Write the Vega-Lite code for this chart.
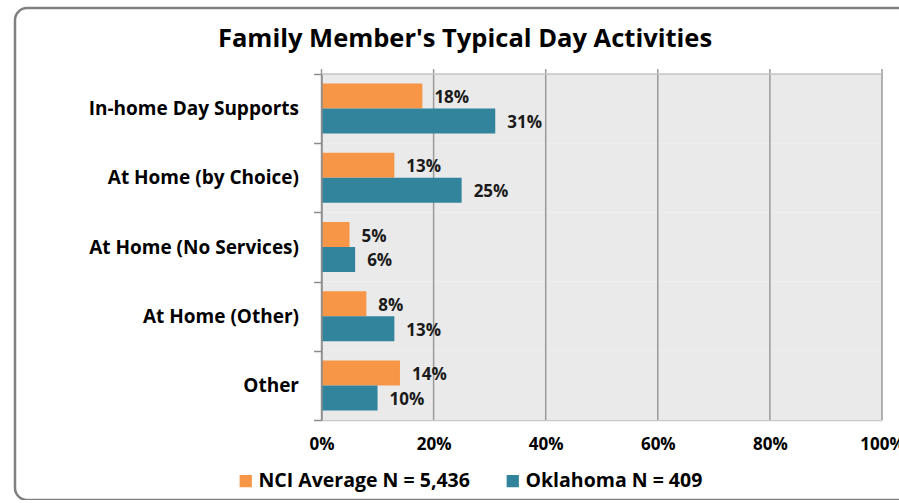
{
  "$schema": "https://vega.github.io/schema/vega-lite/v6.json",
  "width": 900,
  "height": 492,
  "autosize": {"type": "none"},
  "padding": {"left": 15, "top": 8, "right": 0, "bottom": 0},
  "background": "white",
  "title": {
    "text": "Family Member's Typical Day Activities",
    "anchor": "middle",
    "frame": "group",
    "orient": "top",
    "offset": -39,
    "dy": 34,
    "baseline": "alphabetic",
    "font": "Open Sans",
    "fontSize": 25.5,
    "fontWeight": "bold",
    "color": "#000000"
  },
  "datasets": {
    "bars": [
      {"category": "In-home Day Supports", "series": "NCI Average N = 5,436", "value": 18},
      {"category": "In-home Day Supports", "series": "Oklahoma N = 409", "value": 31},
      {"category": "At Home (by Choice)", "series": "NCI Average N = 5,436", "value": 13},
      {"category": "At Home (by Choice)", "series": "Oklahoma N = 409", "value": 25},
      {"category": "At Home (No Services)", "series": "NCI Average N = 5,436", "value": 5},
      {"category": "At Home (No Services)", "series": "Oklahoma N = 409", "value": 6},
      {"category": "At Home (Other)", "series": "NCI Average N = 5,436", "value": 8},
      {"category": "At Home (Other)", "series": "Oklahoma N = 409", "value": 13},
      {"category": "Other", "series": "NCI Average N = 5,436", "value": 14},
      {"category": "Other", "series": "Oklahoma N = 409", "value": 10}
    ],
    "grid": [{"v": 0}, {"v": 20}, {"v": 40}, {"v": 60}, {"v": 80}, {"v": 100}],
    "frameEdge": [{"edge": "top", "from": 0, "to": 100}]
  },
  "resolve": {"scale": {"y": "independent"}, "axis": {"y": "independent"}},
  "layer": [
    {
      "data": {"name": "bars"},
      "transform": [{"filter": {"field": "series", "equal": "NCI Average N = 5,436"}}],
      "mark": {"type": "rect", "fill": "#eaeaea"},
      "encoding": {
        "y": {
          "field": "category", "type": "nominal",
          "sort": ["In-home Day Supports", "At Home (by Choice)", "At Home (No Services)", "At Home (Other)", "Other"],
          "scale": {"range": [66, 412], "paddingInner": 0, "paddingOuter": 0},
          "axis": null
        },
        "x": {"datum": 0, "type": "quantitative", "title": null, "scale": {"domain": [0, 100], "range": [306.5, 867], "nice": false}},
        "x2": {"datum": 100}
      }
    },
    {
      "data": {"name": "grid"},
      "mark": {"type": "rule", "color": "#9a9a9a", "strokeWidth": 1.5},
      "encoding": {
        "x": {"field": "v", "type": "quantitative", "title": null},
        "y": {"datum": 0, "type": "quantitative", "scale": {"domain": [0, 1], "range": [412, 61]}, "axis": null},
        "y2": {"datum": 1}
      }
    },
    {
      "data": {"name": "frameEdge"},
      "mark": {"type": "rule", "color": "#c4c4c4", "strokeWidth": 1.5},
      "encoding": {
        "x": {"field": "from", "type": "quantitative", "title": null},
        "x2": {"field": "to"},
        "y": {"datum": 1, "type": "quantitative", "scale": {"domain": [0, 1], "range": [412, 66]}, "axis": null}
      }
    },
    {
      "data": {"name": "bars"},
      "mark": {"type": "bar"},
      "encoding": {
        "y": {
          "field": "category", "type": "nominal",
          "sort": ["In-home Day Supports", "At Home (by Choice)", "At Home (No Services)", "At Home (Other)", "Other"],
          "scale": {"range": [66, 412], "paddingInner": 0, "paddingOuter": 0},
          "axis": {
            "orient": "left", "offset": -306.5, "title": null,
            "domainColor": "#8c8c8c", "domainWidth": 1.5,
            "tickBand": "extent", "tickSize": 8, "tickColor": "#8c8c8c", "tickWidth": 1.5,
            "labelFont": "Open Sans", "labelFontSize": 19, "labelFontWeight": "bold", "labelColor": "#000000",
            "labelPadding": 15, "labelLimit": 320, "zindex": 1
          }
        },
        "yOffset": {
          "field": "series", "type": "nominal",
          "sort": ["NCI Average N = 5,436", "Oklahoma N = 409"],
          "scale": {"paddingInner": 0, "paddingOuter": 0.385}
        },
        "x": {"field": "value", "type": "quantitative", "title": null},
        "color": {
          "field": "series", "type": "nominal",
          "sort": ["NCI Average N = 5,436", "Oklahoma N = 409"],
          "scale": {"domain": ["NCI Average N = 5,436", "Oklahoma N = 409"], "range": ["#f79646", "#31849b"]},
          "legend": {
            "orient": "none", "legendX": 221, "legendY": 463, "direction": "horizontal", "title": null,
            "symbolType": "square", "symbolSize": 150, "symbolStrokeWidth": 0,
            "labelFont": "Open Sans", "labelFontSize": 19.5, "labelFontWeight": "bold", "labelColor": "#000000",
            "labelOffset": 3, "columnPadding": 33, "padding": 0, "labelLimit": 400
          }
        }
      }
    },
    {
      "data": {"name": "bars"},
      "mark": {"type": "text", "align": "left", "baseline": "middle", "dx": 12, "dy": 2, "font": "Open Sans", "fontSize": 17, "fontWeight": "bold", "color": "#1a1a1a", "text": {"expr": "datum.value + '%'"}},
      "encoding": {
        "y": {
          "field": "category", "type": "nominal",
          "sort": ["In-home Day Supports", "At Home (by Choice)", "At Home (No Services)", "At Home (Other)", "Other"],
          "scale": {"range": [66, 412], "paddingInner": 0, "paddingOuter": 0},
          "axis": null
        },
        "yOffset": {
          "field": "series", "type": "nominal",
          "sort": ["NCI Average N = 5,436", "Oklahoma N = 409"],
          "scale": {"paddingInner": 0, "paddingOuter": 0.385}
        },
        "x": {"field": "value", "type": "quantitative", "title": null},
        "detail": {"field": "series"}
      }
    }
  ],
  "config": {
    "view": {"stroke": "#808080", "strokeWidth": 2.5, "cornerRadius": 12, "fill": "white"},
    "axisX": {
      "orient": "bottom", "offset": -80, "zindex": 1,
      "domainColor": "#c8c8c8", "domainWidth": 1.5,
      "ticks": false, "tickSize": 0, "grid": false, "tickCount": 5,
      "labelFont": "Open Sans", "labelFontSize": 17, "labelFontWeight": "bold", "labelColor": "#000000",
      "labelPadding": 16, "labelFlush": false, "labelExpr": "datum.value + '%'"
    }
  }
}
